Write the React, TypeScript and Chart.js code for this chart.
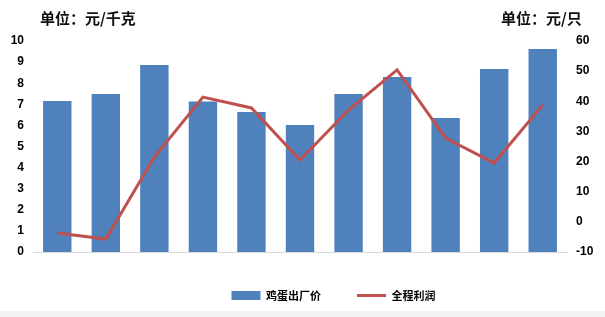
import React, { useEffect, useRef } from "react";
import { Chart, registerables } from "chart.js";

Chart.register(...registerables);

const categories = ["2012", "2013", "2014", "2015", "2016", "2017", "2018", "2019", "2020", "2021", "2022"];
const eggPrice = [7.16, 7.49, 8.86, 7.13, 6.63, 6.02, 7.49, 8.29, 6.35, 8.67, 9.62];
const profit = [-3.7, -5.7, 21.5, 41.4, 37.8, 20.5, 37.1, 50.4, 27.8, 19.5, 38.8];
const priceLabel = "鸡蛋出厂价";
const profitLabel = "全程利润";
const leftUnit = "单位：元/千克";
const rightUnit = "单位：元/只";

const W = 605;
const H = 311;
const PLOT_LEFT = 33;
const PLOT_RIGHT = 567;
const PLOT_TOP = 41;
const PLOT_BOTTOM = 252;

const tickFont = { family: "'Liberation Sans', Arial, sans-serif", size: 12, weight: "bold" as const };

export default function App() {
  const ref = useRef<HTMLCanvasElement | null>(null);

  useEffect(() => {
    document.body.style.margin = "0";
    const canvas = ref.current;
    if (!canvas) return;

    const legendShift = {
      id: "legendShift",
      afterLayout(chart: any) {
        const lg = chart.legend;
        if (lg) {
          lg.left = 62;
          lg.right = W;
          lg.width = lg.right - lg.left;
        }
      },
    };

    const chart = new Chart(canvas, {
      type: "bar",
      data: {
        labels: categories,
        datasets: [
          {
            type: "bar",
            label: priceLabel,
            data: eggPrice,
            backgroundColor: "#4f81bd",
            borderWidth: 0,
            yAxisID: "y",
            order: 2,
            barPercentage: 0.585,
            categoryPercentage: 1,
            pointStyle: "rect",
          } as any,
          {
            type: "line",
            label: profitLabel,
            data: profit,
            borderColor: "#c0504d",
            backgroundColor: "#c0504d",
            borderWidth: 3,
            pointRadius: 0,
            pointStyle: "line",
            tension: 0,
            yAxisID: "y1",
            order: 1,
          } as any,
        ],
      },
      options: {
        animation: false,
        responsive: false,
        maintainAspectRatio: false,
        layout: { padding: { top: PLOT_TOP, left: 0, right: 0, bottom: 0 } },
        plugins: {
          tooltip: { enabled: false },
          legend: {
            position: "bottom",
            labels: {
              usePointStyle: true,
              pointStyleWidth: 29,
              boxHeight: 9,
              padding: 36,
              color: "#000",
              font: { family: "'Noto Sans CJK SC', sans-serif", size: 11, weight: "bold" },
              sort: (a: any, b: any) => a.datasetIndex - b.datasetIndex,
            },
          },
        },
        scales: {
          x: {
            grid: { display: false, drawTicks: false },
            border: { display: true, color: "#d9d9d9", width: 1 },
            ticks: { color: "#000", font: tickFont, padding: 13, maxRotation: 0, autoSkip: false },
            afterFit: (s: any) => {
              s.height = Math.max(0, H - PLOT_BOTTOM - (s.chart.legend ? s.chart.legend.height : 0));
            },
          },
          y: {
            position: "left",
            min: 0,
            max: 10,
            grid: { display: false, drawTicks: false },
            border: { display: false },
            ticks: { stepSize: 1, color: "#000", font: tickFont, padding: 9 },
            afterFit: (s: any) => {
              s.width = PLOT_LEFT;
            },
          },
          y1: {
            position: "right",
            min: -10,
            max: 60,
            grid: { display: false, drawTicks: false },
            border: { display: false },
            ticks: { stepSize: 10, color: "#000", font: tickFont, padding: 9 },
            afterFit: (s: any) => {
              s.width = W - PLOT_RIGHT;
            },
          },
        },
      } as any,
      plugins: [legendShift],
    });

    return () => chart.destroy();
  }, []);

  const unitStyle: React.CSSProperties = {
    position: "absolute",
    top: 8,
    fontFamily: "'Noto Sans CJK SC', sans-serif",
    fontWeight: "bold",
    fontSize: 15,
    lineHeight: "19px",
    color: "#111",
    whiteSpace: "nowrap",
  };

  return (
    <div style={{ position: "relative", width: W, height: 317, background: "#fff", overflow: "hidden" }}>
      <canvas ref={ref} width={W} height={H} style={{ display: "block", width: W, height: H }} />
      <div style={{ ...unitStyle, left: 40 }}>{leftUnit}</div>
      <div style={{ ...unitStyle, left: 501 }}>{rightUnit}</div>
      <div style={{ position: "absolute", left: 0, top: 311, width: W, height: 6, background: "#f3f3f3" }} />
    </div>
  );
}
